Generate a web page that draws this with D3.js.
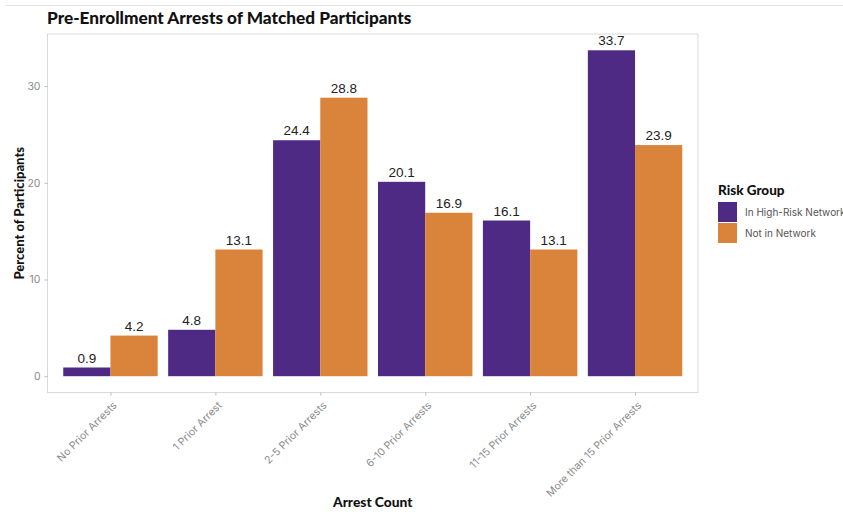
<!DOCTYPE html>
<html><head><meta charset="utf-8">
<script src="https://cdn.jsdelivr.net/npm/d3@7"></script>
<style>body{margin:0;background:#fff;}svg{display:block;}</style>
</head><body>
<svg id="c" width="843" height="512"></svg>
<script>
const categories = ["No Prior Arrests","1 Prior Arrest","2-5 Prior Arrests","6-10 Prior Arrests","11-15 Prior Arrests","More than 15 Prior Arrests"];
const groups = ["In High-Risk Network","Not in Network"];
const highRisk = [0.9, 4.8, 24.4, 20.1, 16.1, 33.7];
const notInNetwork = [4.2, 13.1, 28.8, 16.9, 13.1, 23.9];
const yTicks = [0, 10, 20, 30];
const colors = ["#4e2a84", "#d9843a"];

const svg = d3.select("#c");
const panel = {left: 47.5, right: 698, top: 34, bottom: 392.5};

svg.append("line").attr("x1", 5).attr("x2", 843).attr("y1", 5.5).attr("y2", 5.5)
  .attr("stroke", "#e6e6e6").attr("stroke-width", 1);

const maxV = d3.max(highRisk.concat(notInNetwork));
const y = d3.scaleLinear().domain([-0.05*maxV, maxV*1.05]).range([panel.bottom, panel.top]);
// ggplot-style discrete expansion: 0.6 units each side, bar width 0.9
const n = categories.length;
const unit = (panel.right - panel.left) / (n - 1 + 1.2);
const cx = d3.scalePoint().domain(categories).range([panel.left + 0.6*unit, panel.right - 0.6*unit]);
const xs = d3.scaleBand().domain(groups).range([-0.45*unit, 0.45*unit]);

svg.append("rect").attr("x", panel.left).attr("y", panel.top)
  .attr("width", panel.right - panel.left).attr("height", panel.bottom - panel.top)
  .attr("fill", "none").attr("stroke", "#d9d9d9").attr("stroke-width", 1);

const data = [];
categories.forEach((c, i) => {
  data.push({cat: c, g: groups[0], v: highRisk[i]});
  data.push({cat: c, g: groups[1], v: notInNetwork[i]});
});

svg.append("g").selectAll("rect").data(data).join("rect")
  .attr("x", d => cx(d.cat) + xs(d.g))
  .attr("width", xs.bandwidth())
  .attr("y", d => y(d.v))
  .attr("height", d => y(0) - y(d.v))
  .attr("fill", d => colors[groups.indexOf(d.g)]);

svg.append("g").selectAll("text").data(data).join("text")
  .attr("x", d => cx(d.cat) + xs(d.g) + xs.bandwidth()/2)
  .attr("y", d => y(d.v) - 5)
  .attr("text-anchor", "middle")
  .attr("font-family", "Liberation Sans, Arial, sans-serif")
  .attr("font-size", 13.5).attr("fill", "#222")
  .text(d => d.v.toFixed(1));

// y axis
const yAxis = svg.append("g").attr("transform", `translate(${panel.left},0)`)
  .call(d3.axisLeft(y).tickValues(yTicks).tickSize(3).tickPadding(4));
yAxis.select(".domain").remove();
yAxis.selectAll("line").attr("stroke", "#bbb");
yAxis.selectAll("text").attr("fill", "#8a8a8a").attr("font-size", 10.5)
  .attr("font-family", "Inter, Lato, sans-serif");

// x axis
const xAxis = svg.append("g").attr("transform", `translate(0,${panel.bottom})`)
  .call(d3.axisBottom(cx).tickSize(3).tickPadding(2));
xAxis.select(".domain").remove();
xAxis.selectAll("line").attr("stroke", "#bbb");
xAxis.selectAll("text").attr("fill", "#8a8a8a").attr("font-size", 10.5)
  .attr("font-family", "Inter, Lato, sans-serif")
  .attr("text-anchor", "end").attr("dy", 0)
  .attr("transform", "translate(3,10) rotate(-45)");

// titles
svg.append("text").attr("x", 47).attr("y", 24)
  .attr("font-family", "Lato, sans-serif").attr("font-weight", 900).attr("font-size", 17.2)
  .attr("fill", "#111").text("Pre-Enrollment Arrests of Matched Participants");

svg.append("text").attr("transform", `translate(24,${(panel.top+panel.bottom)/2}) rotate(-90)`)
  .attr("text-anchor", "middle")
  .attr("font-family", "Lato, sans-serif").attr("font-weight", 900).attr("font-size", 13)
  .attr("fill", "#111").text("Percent of Participants");

svg.append("text").attr("x", (panel.left+panel.right)/2).attr("y", 507)
  .attr("text-anchor", "middle")
  .attr("font-family", "Lato, sans-serif").attr("font-weight", 900).attr("font-size", 13.8)
  .attr("fill", "#111").text("Arrest Count");

// legend
const lg = svg.append("g").attr("transform", "translate(718,0)");
lg.append("text").attr("x", 0).attr("y", 195)
  .attr("font-family", "Lato, sans-serif").attr("font-weight", 900).attr("font-size", 13.5)
  .attr("fill", "#111").text("Risk Group");
groups.forEach((g, i) => {
  lg.append("rect").attr("x", 0).attr("y", 202 + i*21).attr("width", 19).attr("height", 20)
    .attr("fill", colors[i]);
  lg.append("text").attr("x", 27).attr("y", 216 + i*21)
    .attr("font-family", "Inter, Lato, sans-serif").attr("font-size", 10)
    .attr("fill", "#555").text(g);
});
</script>
</body></html>
